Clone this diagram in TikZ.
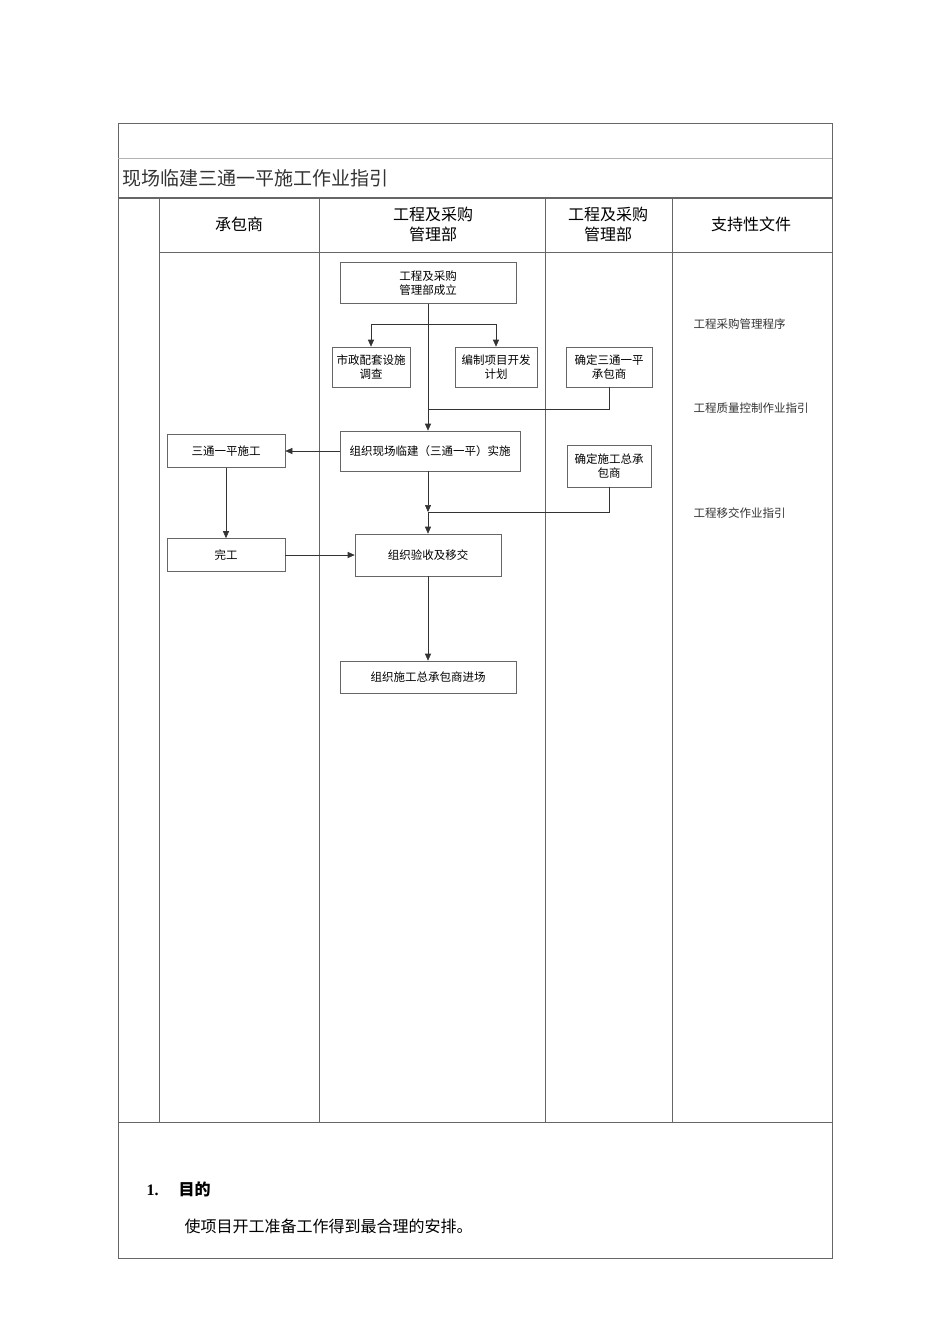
\documentclass[tikz,border=0pt]{standalone}
\usepackage{fontspec}
\setmainfont{Liberation Serif}
\newfontfamily\cjk{Noto Sans CJK SC}
\usetikzlibrary{arrows.meta}
\begin{document}
\begin{tikzpicture}[x=1pt,y=-1pt,
  box/.style={draw=black!60,line width=0.6pt,minimum height=40pt,align=center,font=\cjk\fontsize{11.5}{14}\selectfont,inner sep=1pt},
  conn/.style={line width=0.6pt,black!80},
  arr/.style={conn,-{Triangle[length=7pt,width=6pt]}},
  grid/.style={line width=0.7pt,black!60},
  doc/.style={anchor=west,font=\cjk\fontsize{11.5}{13}\selectfont,text=black!80},
  hdr/.style={align=center,font=\cjk\fontsize{16}{20}\selectfont}]
\useasboundingbox (0,0) rectangle (950,1344);
% table
\draw[grid] (118,123) rectangle (832,1258);
\draw[black!30,line width=0.7pt] (118,158) -- (832,158);
\draw[grid,line width=1.2pt] (118,198) -- (832,198);
\draw[grid] (159,252) -- (832,252);
\draw[grid] (118,1122) -- (832,1122);
\foreach \x in {159,319,545,672} \draw[grid] (\x,198) -- (\x,1122);
\node[anchor=west,font=\cjk\fontsize{19}{22}\selectfont,text=black!80] (title) at (119,178) {现场临建三通一平施工作业指引};
\node[hdr] (h1) at (239,224) {承包商};
\node[hdr] (h2) at (433,224) {工程及采购\\管理部};
\node[hdr] (h3) at (608,224) {工程及采购\\管理部};
\node[hdr] (h4) at (751,224) {支持性文件};
% boxes
\node[box,minimum width=176pt,minimum height=41pt] (A) at (428,283) {工程及采购\\管理部成立};
\node[box,minimum width=78pt] (B) at (371,367) {市政配套设施\\调查};
\node[box,minimum width=82pt] (C) at (496,367) {编制项目开发\\计划};
\node[box,minimum width=86pt] (D) at (609,367) {确定三通一平\\承包商};
\node[box,minimum width=180pt] (E) at (430,451) {组织现场临建（三通一平）实施};
\node[box,minimum width=118pt,minimum height=33pt] (F) at (226,451) {三通一平施工};
\node[box,minimum width=84pt,minimum height=42pt] (G) at (609,466) {确定施工总承\\包商};
\node[box,minimum width=118pt,minimum height=33pt] (H) at (226,555) {完工};
\node[box,minimum width=146pt,minimum height=42pt] (I) at (428,555) {组织验收及移交};
\node[box,minimum width=176pt,minimum height=32pt] (J) at (428,677) {组织施工总承包商进场};
% connectors
\coordinate (br) at (428,324);
\coordinate (jd) at (428,409);
\coordinate (jg) at (428,512);
\draw[arr] (A.south -| br) -- (E.north -| br);
\draw[arr] (br) -| (B.north);
\draw[arr] (br) -| (C.north);
\draw[conn] (D.south) |- (jd);
\draw[arr] (E.west) -- (F.east);
\draw[arr] (F.south) -- (H.north);
\draw[arr] (E.south -| jg) -- (jg);
\draw[conn] (G.south) |- (jg);
\draw[arr] (jg) -- (I.north -| jg);
\draw[arr] (H.east) -- (I.west);
\draw[arr] (I.south -| jg) -- (J.north -| jg);
% docs
\node[doc] (d1) at (690,324) {工程采购管理程序};
\node[doc] (d2) at (690,408) {工程质量控制作业指引};
\node[doc] (d3) at (690,513) {工程移交作业指引};
% bottom text
\node[anchor=west,font=\fontsize{16}{20}\selectfont\bfseries] (n1) at (143,1189) {1.\hspace{20pt}{\cjk 目的}};
\node[anchor=west,font=\cjk\fontsize{16}{20}\selectfont] (p1) at (181,1226) {使项目开工准备工作得到最合理的安排。};
\end{tikzpicture}
\end{document}
